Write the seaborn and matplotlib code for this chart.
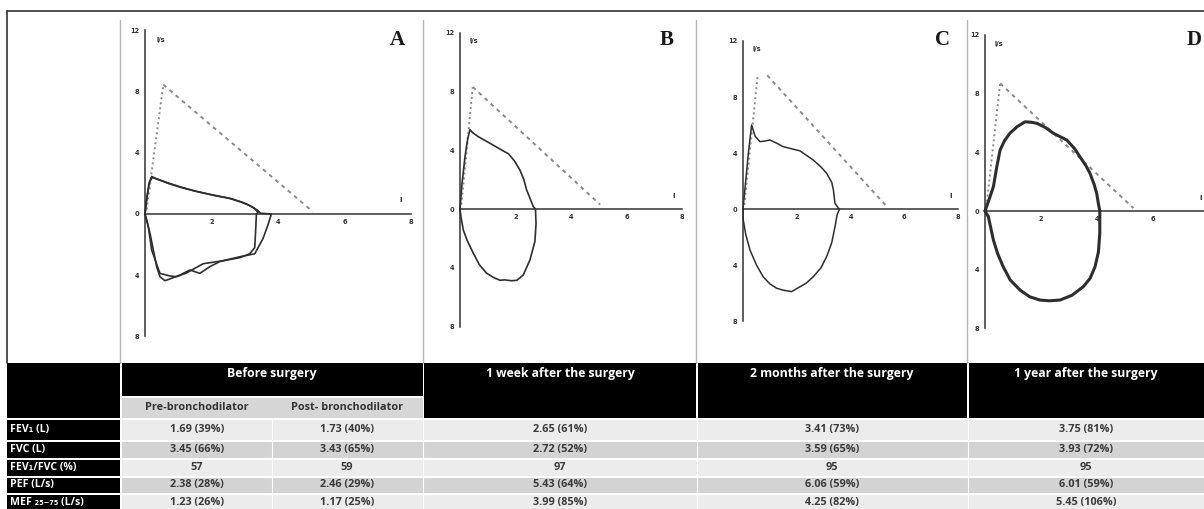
import matplotlib
matplotlib.use('Agg')
import matplotlib.pyplot as plt
import seaborn as sns
from matplotlib.patches import Rectangle

W, H = 1204, 509

# --- flow-volume loops (volume in l, flow in l/s) ---
# A: before surgery, two loops (pre- and post-bronchodilator)
A_PRE_X = [0, 0.05, 0.12, 0.2, 0.35, 0.6, 1.05, 1.5, 2.05, 2.5, 2.86, 3.1, 3.3, 3.4,
           3.35, 3.33, 3.3, 3.15, 2.86, 2.36, 1.75, 1.25, 0.95, 0.75, 0.45, 0.2, 0.1, 0]
A_PRE_Y = [0, 1.0, 2.0, 2.45, 2.3, 2.1, 1.78, 1.5, 1.24, 1.05, 0.8, 0.6, 0.35, 0.1,
           0, -1.0, -2.2, -2.6, -2.85, -3.05, -3.25, -3.85, -4.1, -4.05, -3.88, -2.35, -0.83, 0]
A_POST_X = [0, 0.06, 0.14, 0.22, 0.4, 0.7, 1.1, 1.6, 2.1, 2.6, 2.95, 3.2, 3.38, 3.48,
            3.8, 3.7, 3.55, 3.3, 2.86, 2.26, 1.95, 1.65, 1.35, 1.05, 0.8, 0.6, 0.45, 0.35, 0.15, 0.05, 0]
A_POST_Y = [0, 1.1, 2.1, 2.4, 2.25, 2.0, 1.72, 1.45, 1.2, 1.0, 0.75, 0.5, 0.25, 0.05,
            0, -0.7, -1.6, -2.6, -2.79, -3.1, -3.44, -3.88, -3.66, -3.99, -4.2, -4.36, -4.1, -3.44, -1.26, -0.4, 0]
# B: 1 week after
B_X = [0, 0.06, 0.18, 0.28, 0.36, 0.45, 0.66, 1.08, 1.56, 1.75, 1.95, 2.16, 2.3, 2.4, 2.55, 2.64, 2.72,
       2.74, 2.7, 2.52, 2.28, 2.05, 1.86, 1.6, 1.44, 1.2, 0.96, 0.7, 0.48, 0.25, 0.12, 0.04, 0]
B_Y = [0, 1.5, 3.56, 4.8, 5.4, 5.2, 4.92, 4.47, 3.95, 3.75, 3.3, 2.65, 2.0, 1.3, 0.6, 0.16, 0,
       -1.0, -2.2, -3.47, -4.49, -4.85, -4.88, -4.82, -4.85, -4.65, -4.37, -3.8, -3.01, -2.1, -1.43, -0.6, 0]
# C: 2 months after
C_X = [0, 0.1, 0.2, 0.32, 0.45, 0.63, 0.8, 1.0, 1.25, 1.5, 2.12, 2.61, 2.9, 3.11, 3.3, 3.36, 3.42, 3.55, 3.59,
       3.5, 3.42, 3.3, 3.11, 2.9, 2.61, 2.35, 2.12, 1.81, 1.5, 1.25, 1.0, 0.75, 0.5, 0.26, 0.1, 0.01, 0]
C_Y = [0, 2.0, 4.0, 6.0, 5.2, 4.81, 4.85, 4.93, 4.7, 4.45, 4.15, 3.5, 3.0, 2.55, 1.9, 1.36, 0.4, 0.05, 0,
       -0.4, -1.26, -2.4, -3.4, -4.2, -4.84, -5.3, -5.55, -5.9, -5.8, -5.66, -5.35, -4.84, -4.0, -2.93, -1.8, -0.79, 0]
# D: 1 year after
D_X = [0, 0.15, 0.3, 0.42, 0.54, 0.7, 0.89, 1.15, 1.43, 1.65, 1.85, 2.15, 2.44, 2.92, 3.2, 3.39, 3.6, 3.75, 3.9,
       3.99, 4.05, 4.1, 4.1, 4.05, 3.93, 3.75, 3.51, 3.1, 2.68, 2.3, 1.96, 1.6, 1.25, 0.9, 0.65, 0.45, 0.3, 0.12, 0]
D_Y = [0, 0.8, 1.66, 3.0, 4.16, 4.8, 5.3, 5.75, 6.08, 6.05, 5.98, 5.7, 5.3, 4.84, 4.25, 3.7, 3.1, 2.57, 1.8,
       1.2, 0.5, 0, -1.52, -2.8, -3.8, -4.6, -5.16, -5.75, -6.07, -6.12, -6.07, -5.85, -5.39, -4.7, -3.8, -2.9,
       -1.98, -0.39, 0]

# predicted curves (dotted rise, dashed fall)
PRED_A_X = [0.05, 0.55, 5.05]
PRED_A_Y = [0.3, 8.45, 0.15]
PRED_B_X = [0.05, 0.46, 5.05]
PRED_B_Y = [0.3, 8.3, 0.3]
PRED_C_X = [0.05, 0.55, 0.9, 5.38]
PRED_C_Y = [0.3, 9.65, 9.55, 0.1]
PRED_D_X = [0.05, 0.54, 5.3]
PRED_D_Y = [0.3, 8.7, 0.2]

Y_TICKS = [-8, -4, 0, 4, 8, 12]
Y_TICK_LABELS = ['8', '4', '0', '4', '8', '12']
X_TICKS = [1, 2, 3, 4, 5, 6, 7, 8]
X_TICK_LABELS = ['', '2', '', '4', '', '6', '', '8']
X_TICK_LABELS_D = ['', '2', '', '4', '', '6', '', '']  # the 8 falls off the page

# --- table ---
PERIODS = ['Before surgery', '1 week after the surgery', '2 months after the surgery', '1 year after the surgery']
SUB_HEADERS = ['Pre-bronchodilator', 'Post- bronchodilator']
ROW_LABELS = ['FEV\u2081 (L)', 'FVC (L)', 'FEV\u2081/FVC (%)', 'PEF (L/s)', 'MEF \u2082\u2085\u208b\u2087\u2085 (L/s)']
PRE_BD = ['1.69 (39%)', '3.45 (66%)', '57', '2.38 (28%)', '1.23 (26%)']
POST_BD = ['1.73 (40%)', '3.43 (65%)', '59', '2.46 (29%)', '1.17 (25%)']
WEEK_1 = ['2.65 (61%)', '2.72 (52%)', '97', '5.43 (64%)', '3.99 (85%)']
MONTHS_2 = ['3.41 (73%)', '3.59 (65%)', '95', '6.06 (59%)', '4.25 (82%)']
YEAR_1 = ['3.75 (81%)', '3.93 (72%)', '95', '6.01 (59%)', '5.45 (106%)']

sns.set_theme(style='white')
plt.rcParams['font.family'] = ['Open Sans', 'DejaVu Sans']
TICK_FONT = ['DejaVu Sans']

fig = plt.figure(figsize=(W / 100, H / 100), dpi=100)
fig.patch.set_facecolor('white')

# overlay in pixel coordinates for the frame and the table
frame = fig.add_axes([0, 0, 1, 1])
frame.set_xlim(0, W)
frame.set_ylim(H, 0)
frame.axis('off')


def box(x0, y0, x1, y1, color):
    frame.add_patch(Rectangle((x0, y0), x1 - x0, y1 - y0, facecolor=color, edgecolor='none'))


# outer frame and panel separators
frame.plot([7, W], [11, 11], color='#333333', lw=1.2)
frame.plot([7, 7], [11, 363], color='#333333', lw=1.2)
for xs in [120, 423, 696, 967]:
    frame.plot([xs, xs], [20, 363], color='#b5b5b5', lw=1)

# header
box(7, 363, 120, 418, 'black')
box(122, 363, 423, 396, 'black')
box(122, 398, 423, 418, '#d6d6d6')
box(424, 363, 696, 418, 'black')
box(698, 363, 967, 418, 'black')
box(969, 363, W, 418, 'black')

col_centers = [272, 560, 832, 1086]
for cx, txt in zip(col_centers, PERIODS):
    frame.text(cx, 374, txt, ha='center', va='center', color='white', fontsize=8.8, fontweight='bold')
for cx, txt in zip([197, 347], SUB_HEADERS):
    frame.text(cx, 408, txt, ha='center', va='center', color='#333333', fontsize=7.8, fontweight='bold')

row_tops = [420, 442, 460, 478, 495]
row_bots = [440, 458, 476, 493, 512]
row_colors = ['#ececec', '#d3d3d3', '#ececec', '#d3d3d3', '#ececec']
value_cols = [(197, PRE_BD), (347, POST_BD), (560, WEEK_1), (832, MONTHS_2), (1086, YEAR_1)]
for i, label in enumerate(ROW_LABELS):
    top, bot = row_tops[i], row_bots[i]
    box(7, top, 120, bot, 'black')
    box(122, top, W, bot, row_colors[i])
    yc = (top + bot) / 2 - 0.5
    frame.text(10, yc, label, ha='left', va='center', color='white', fontsize=7.6, fontweight='bold')
    for cx, vals in value_cols:
        frame.text(cx, yc, vals[i], ha='center', va='center', color='#3a3a3a', fontsize=7.8, fontweight='bold')
for xs in [272, 423, 697, 968]:
    frame.plot([xs, xs], [420, H], color='white', lw=0.8)


def panel_axes(ox, oy, sx, sy, xlim=(-0.6, 8.4), ylim=(-8.8, 12.8)):
    left = ox + xlim[0] * sx
    right = ox + xlim[1] * sx
    top = oy - ylim[1] * sy
    bottom = oy - ylim[0] * sy
    ax = fig.add_axes([left / W, 1 - bottom / H, (right - left) / W, (bottom - top) / H])
    ax.set_xlim(*xlim)
    ax.set_ylim(*ylim)
    ax.patch.set_alpha(0)
    return ax


def style_flow_axes(ax, xlabels):
    for side in ['top', 'right']:
        ax.spines[side].set_visible(False)
    ax.spines['left'].set_position(('data', 0))
    ax.spines['bottom'].set_position(('data', 0))
    ax.spines['left'].set_bounds(-8, 12)
    ax.spines['bottom'].set_bounds(0, 8)
    for side in ['left', 'bottom']:
        ax.spines[side].set_color('#333333')
        ax.spines[side].set_linewidth(1.1)
        ax.spines[side].set_zorder(1)
    ax.set_yticks(Y_TICKS)
    ax.set_yticklabels(Y_TICK_LABELS, fontsize=4.8, fontweight='bold', color='#2a2a2a', family=TICK_FONT)
    ax.set_xticks(X_TICKS)
    ax.set_xticklabels(xlabels, fontsize=4.8, fontweight='bold', color='#2a2a2a', family=TICK_FONT)
    ax.tick_params(axis='y', direction='out', length=3, width=1, pad=1, colors='#333333')
    ax.tick_params(axis='x', direction='inout', length=3, width=1, pad=2, colors='#333333')
    ax.set_xlabel('')
    ax.set_ylabel('')
    ax.grid(False)
    ax.text(0.35, 11.4, 'l/s', fontsize=4.8, fontweight='bold', color='#2a2a2a', ha='left', va='center',
            family=TICK_FONT)
    ax.text(7.7, 0.9, 'l', fontsize=5, fontweight='bold', color='#2a2a2a', ha='center', va='center',
            family=TICK_FONT)


def draw_pred(ax, px, py):
    sns.lineplot(x=px[:2], y=py[:2], sort=False, estimator=None, ax=ax,
                 color='#8a8a8a', lw=1.4, linestyle=(0, (1, 1.6)))
    sns.lineplot(x=px[-2:], y=py[-2:], sort=False, estimator=None, ax=ax,
                 color='#8a8a8a', lw=1.4, linestyle=(0, (2, 2.2)))


panels = [
    ('A', (145, 214, 33.25, 15.3), [(A_PRE_X, A_PRE_Y), (A_POST_X, A_POST_Y)], (PRED_A_X, PRED_A_Y), 1.2, 397,
     X_TICK_LABELS),
    ('B', (460, 209, 27.75, 14.7), [(B_X, B_Y)], (PRED_B_X, PRED_B_Y), 1.2, 667, X_TICK_LABELS),
    ('C', (743, 209, 26.9, 14.0), [(C_X, C_Y)], (PRED_C_X, PRED_C_Y), 1.1, 942, X_TICK_LABELS),
    ('D', (985, 211, 28.0, 14.67), [(D_X, D_Y)], (PRED_D_X, PRED_D_Y), 2.2, 1194, X_TICK_LABELS_D),
]

for letter, (ox, oy, sx, sy), loops, (px, py), lw, lx, xlabels in panels:
    ax = panel_axes(ox, oy, sx, sy)
    draw_pred(ax, px, py)
    for lx_, ly_ in loops:
        sns.lineplot(x=lx_, y=ly_, sort=False, estimator=None, ax=ax, color='#2e2e2e', lw=lw)
    style_flow_axes(ax, xlabels)
    frame.text(lx, 40, letter, ha='center', va='center', fontsize=15, fontweight='bold',
               family='Liberation Serif', color='#1a1a1a')

fig.savefig('out.png', dpi=100, facecolor='white')
